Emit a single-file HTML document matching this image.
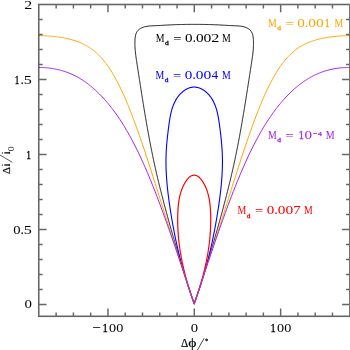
<!DOCTYPE html>
<html><head><meta charset="utf-8"><style>
html,body{margin:0;padding:0;background:#fff;overflow:hidden;}
svg{display:block;will-change:transform;}
text{font-family:"Liberation Serif",serif;}
</style></head><body>
<svg width="350" height="350" viewBox="0 0 350 350">
<defs><clipPath id="c"><rect x="38.75" y="4.5" width="311.15" height="311.80"/></clipPath></defs>
<g>
<g fill="none" stroke-width="1.0" clip-path="url(#c)" stroke-linejoin="round">
<path d="M194.20,304.00 193.98,303.19 193.71,302.39 193.44,301.60 193.17,300.80 192.91,300.01 192.64,299.22 192.37,298.42 192.10,297.63 191.84,296.83 191.57,296.03 191.31,295.24 191.04,294.44 190.78,293.65 190.52,292.85 190.25,292.06 189.99,291.26 189.73,290.46 189.47,289.67 189.20,288.87 188.94,288.07 188.68,287.27 188.42,286.48 188.16,285.68 187.91,284.88 187.65,284.08 187.39,283.29 187.13,282.49 186.87,281.69 186.62,280.89 186.36,280.09 186.11,279.29 185.85,278.49 185.60,277.69 185.34,276.90 185.09,276.10 184.83,275.30 184.58,274.50 184.33,273.70 184.08,272.90 183.83,272.10 183.57,271.30 183.32,270.49 183.07,269.69 182.82,268.89 182.58,268.09 182.33,267.29 182.08,266.49 181.83,265.69 181.58,264.89 181.34,264.08 181.09,263.28 180.84,262.48 180.60,261.68 180.35,260.88 180.11,260.07 179.86,259.27 179.62,258.47 179.38,257.66 179.13,256.86 178.89,256.06 178.65,255.25 178.41,254.45 178.17,253.65 177.93,252.84 177.69,252.04 177.45,251.24 177.21,250.43 176.97,249.63 176.73,248.82 176.49,248.02 176.25,247.21 176.02,246.41 175.78,245.60 175.54,244.80 175.31,243.99 175.07,243.19 174.84,242.38 174.60,241.58 174.37,240.77 174.13,239.97 173.90,239.16 173.67,238.35 173.44,237.55 173.20,236.74 172.97,235.94 172.74,235.13 172.51,234.32 172.28,233.52 172.05,232.71 171.82,231.90 171.59,231.10 171.36,230.29 171.13,229.48 170.91,228.67 170.68,227.87 170.45,227.06 170.23,226.25 170.00,225.44 169.77,224.64 169.55,223.83 169.32,223.02 169.10,222.21 168.88,221.40 168.65,220.60 168.43,219.79 168.21,218.98 167.98,218.17 167.76,217.36 167.54,216.55 167.32,215.75 167.10,214.94 166.88,214.13 166.66,213.32 166.44,212.51 166.22,211.70 166.00,210.89 165.79,210.08 165.57,209.27 165.35,208.46 165.13,207.65 164.92,206.84 164.70,206.03 164.49,205.22 164.27,204.41 164.06,203.60 163.84,202.79 163.63,201.98 163.42,201.17 163.21,200.36 163.00,199.55 162.79,198.74 162.57,197.93 162.37,197.12 162.16,196.30 161.95,195.49 161.74,194.68 161.53,193.87 161.33,193.06 161.12,192.25 160.91,191.43 160.71,190.62 160.51,189.81 160.30,189.00 160.10,188.18 159.90,187.37 159.70,186.56 159.49,185.74 159.29,184.93 159.10,184.12 158.90,183.30 158.70,182.49 158.50,181.68 158.31,180.86 158.11,180.05 157.92,179.23 157.72,178.42 157.53,177.60 157.34,176.79 157.14,175.97 156.95,175.16 156.76,174.34 156.57,173.53 156.38,172.71 156.20,171.89 156.01,171.08 155.82,170.26 155.64,169.44 155.45,168.63 155.27,167.81 155.09,166.99 154.91,166.17 154.73,165.36 154.55,164.54 154.37,163.72 154.19,162.90 154.01,162.08 153.84,161.26 153.66,160.44 153.49,159.62 153.31,158.80 153.14,157.99 152.97,157.17 152.80,156.35 152.63,155.52 152.46,154.70 152.29,153.88 152.12,153.06 151.95,152.24 151.79,151.42 151.62,150.60 151.46,149.78 151.29,148.95 151.13,148.13 150.97,147.31 150.81,146.49 150.65,145.67 150.49,144.84 150.33,144.02 150.17,143.20 150.01,142.37 149.85,141.55 149.70,140.73 149.54,139.90 149.39,139.08 149.23,138.26 149.08,137.43 148.92,136.61 148.77,135.78 148.62,134.96 148.47,134.13 148.32,133.31 148.17,132.48 148.02,131.66 147.87,130.83 147.72,130.01 147.57,129.18 147.42,128.36 147.28,127.53 147.13,126.71 146.99,125.88 146.84,125.06 146.70,124.23 146.55,123.40 146.41,122.58 146.27,121.75 146.12,120.92 145.98,120.10 145.84,119.27 145.70,118.44 145.56,117.62 145.42,116.79 145.28,115.96 145.14,115.14 145.00,114.31 144.86,113.48 144.72,112.65 144.58,111.83 144.45,111.00 144.31,110.17 144.17,109.34 144.04,108.52 143.90,107.69 143.77,106.86 143.63,106.03 143.50,105.21 143.36,104.38 143.23,103.55 143.09,102.72 142.96,101.89 142.83,101.06 142.69,100.24 142.56,99.41 142.43,98.58 142.30,97.75 142.17,96.92 142.03,96.09 141.90,95.27 141.77,94.44 141.64,93.61 141.51,92.78 141.38,91.95 141.25,91.12 141.12,90.30 140.99,89.47 140.86,88.64 140.73,87.81 140.60,86.98 140.47,86.15 140.34,85.32 140.21,84.50 140.08,83.67 139.96,82.84 139.83,82.01 139.70,81.18 139.57,80.35 139.44,79.52 139.31,78.70 139.19,77.87 139.06,77.04 138.93,76.21 138.80,75.38 138.67,74.55 138.55,73.72 138.42,72.90 138.29,72.07 138.16,71.24 138.03,70.41 137.91,69.58 137.78,68.75 137.65,67.93 137.52,67.10 137.39,66.27 137.27,65.44 137.14,64.61 137.01,63.79 136.88,62.96 136.75,62.13 136.63,61.30 136.50,60.48 136.38,59.65 136.26,58.82 136.14,57.99 136.02,57.16 135.91,56.33 135.80,55.50 135.69,54.67 135.60,53.84 135.50,53.00 135.41,52.17 135.33,51.34 135.25,50.50 135.18,49.66 135.12,48.83 135.06,47.99 135.02,47.15 134.98,46.31 134.95,45.46 134.93,44.62 134.92,43.77 134.92,42.93 134.93,42.08 134.95,41.23 134.99,40.37 135.03,39.52 135.09,38.66 135.17,37.81 135.27,36.97 135.40,36.13 135.57,35.31 135.77,34.51 136.02,33.73 136.33,32.98 136.69,32.26 137.10,31.58 137.57,30.93 138.09,30.32 138.66,29.76 139.28,29.24 139.94,28.77 140.64,28.34 141.38,27.96 142.15,27.61 142.93,27.31 143.74,27.04 144.55,26.80 145.38,26.60 146.21,26.43 147.04,26.28 147.88,26.16 148.73,26.06 149.58,25.98 150.43,25.91 151.28,25.85 152.13,25.81 152.99,25.77 153.84,25.74 154.69,25.70 155.54,25.67 156.39,25.63 157.23,25.59 158.08,25.55 158.92,25.51 159.75,25.47 160.59,25.42 161.43,25.38 162.26,25.33 163.09,25.28 163.93,25.24 164.76,25.19 165.59,25.14 166.42,25.10 167.25,25.05 168.08,25.01 168.91,24.96 169.74,24.92 170.57,24.88 171.40,24.84 172.24,24.80 173.07,24.77 173.90,24.73 174.74,24.70 175.57,24.67 176.41,24.64 177.24,24.62 178.08,24.59 178.92,24.56 179.75,24.54 180.59,24.52 181.43,24.50 182.27,24.48 183.11,24.47 183.95,24.45 184.79,24.44 185.63,24.42 186.47,24.41 187.31,24.40 188.15,24.39 188.99,24.39 189.83,24.38 190.67,24.38 191.51,24.37 192.35,24.37 193.19,24.37 194.04,24.37 194.20,24.37 194.36,24.37 195.21,24.37 196.05,24.37 196.89,24.37 197.73,24.38 198.57,24.38 199.41,24.39 200.25,24.39 201.09,24.40 201.93,24.41 202.77,24.42 203.61,24.44 204.45,24.45 205.29,24.47 206.13,24.48 206.97,24.50 207.81,24.52 208.65,24.54 209.48,24.56 210.32,24.59 211.16,24.62 211.99,24.64 212.83,24.67 213.66,24.70 214.50,24.73 215.33,24.77 216.16,24.80 217.00,24.84 217.83,24.88 218.66,24.92 219.49,24.96 220.32,25.01 221.15,25.05 221.98,25.10 222.81,25.14 223.64,25.19 224.47,25.24 225.31,25.28 226.14,25.33 226.97,25.38 227.81,25.42 228.65,25.47 229.48,25.51 230.32,25.55 231.17,25.59 232.01,25.63 232.86,25.67 233.71,25.70 234.56,25.74 235.41,25.77 236.27,25.81 237.12,25.85 237.97,25.91 238.82,25.98 239.67,26.06 240.52,26.16 241.36,26.28 242.19,26.43 243.02,26.60 243.85,26.80 244.66,27.04 245.47,27.31 246.25,27.61 247.02,27.96 247.76,28.34 248.46,28.77 249.12,29.24 249.74,29.76 250.31,30.32 250.83,30.93 251.30,31.58 251.71,32.26 252.07,32.98 252.38,33.73 252.63,34.51 252.83,35.31 253.00,36.13 253.13,36.97 253.23,37.81 253.31,38.66 253.37,39.52 253.41,40.37 253.45,41.23 253.47,42.08 253.48,42.93 253.48,43.77 253.47,44.62 253.45,45.46 253.42,46.31 253.38,47.15 253.34,47.99 253.28,48.83 253.22,49.66 253.15,50.50 253.07,51.34 252.99,52.17 252.90,53.00 252.80,53.84 252.71,54.67 252.60,55.50 252.49,56.33 252.38,57.16 252.26,57.99 252.14,58.82 252.02,59.65 251.90,60.48 251.77,61.30 251.65,62.13 251.52,62.96 251.39,63.79 251.26,64.61 251.13,65.44 251.01,66.27 250.88,67.10 250.75,67.93 250.62,68.75 250.49,69.58 250.37,70.41 250.24,71.24 250.11,72.07 249.98,72.90 249.85,73.72 249.73,74.55 249.60,75.38 249.47,76.21 249.34,77.04 249.21,77.87 249.09,78.70 248.96,79.52 248.83,80.35 248.70,81.18 248.57,82.01 248.44,82.84 248.32,83.67 248.19,84.50 248.06,85.32 247.93,86.15 247.80,86.98 247.67,87.81 247.54,88.64 247.41,89.47 247.28,90.30 247.15,91.12 247.02,91.95 246.89,92.78 246.76,93.61 246.63,94.44 246.50,95.27 246.37,96.09 246.23,96.92 246.10,97.75 245.97,98.58 245.84,99.41 245.71,100.24 245.57,101.06 245.44,101.89 245.31,102.72 245.17,103.55 245.04,104.38 244.90,105.21 244.77,106.03 244.63,106.86 244.50,107.69 244.36,108.52 244.23,109.34 244.09,110.17 243.95,111.00 243.82,111.83 243.68,112.65 243.54,113.48 243.40,114.31 243.26,115.14 243.12,115.96 242.98,116.79 242.84,117.62 242.70,118.44 242.56,119.27 242.42,120.10 242.28,120.92 242.13,121.75 241.99,122.58 241.85,123.40 241.70,124.23 241.56,125.06 241.41,125.88 241.27,126.71 241.12,127.53 240.98,128.36 240.83,129.18 240.68,130.01 240.53,130.83 240.38,131.66 240.23,132.48 240.08,133.31 239.93,134.13 239.78,134.96 239.63,135.78 239.48,136.61 239.32,137.43 239.17,138.26 239.01,139.08 238.86,139.90 238.70,140.73 238.55,141.55 238.39,142.37 238.23,143.20 238.07,144.02 237.91,144.84 237.75,145.67 237.59,146.49 237.43,147.31 237.27,148.13 237.11,148.95 236.94,149.78 236.78,150.60 236.61,151.42 236.45,152.24 236.28,153.06 236.11,153.88 235.94,154.70 235.77,155.52 235.60,156.35 235.43,157.17 235.26,157.99 235.09,158.80 234.91,159.62 234.74,160.44 234.56,161.26 234.39,162.08 234.21,162.90 234.03,163.72 233.85,164.54 233.67,165.36 233.49,166.17 233.31,166.99 233.13,167.81 232.95,168.63 232.76,169.44 232.58,170.26 232.39,171.08 232.20,171.89 232.02,172.71 231.83,173.53 231.64,174.34 231.45,175.16 231.26,175.97 231.06,176.79 230.87,177.60 230.68,178.42 230.48,179.23 230.29,180.05 230.09,180.86 229.90,181.68 229.70,182.49 229.50,183.30 229.30,184.12 229.11,184.93 228.91,185.74 228.70,186.56 228.50,187.37 228.30,188.18 228.10,189.00 227.89,189.81 227.69,190.62 227.49,191.43 227.28,192.25 227.07,193.06 226.87,193.87 226.66,194.68 226.45,195.49 226.24,196.30 226.03,197.12 225.83,197.93 225.61,198.74 225.40,199.55 225.19,200.36 224.98,201.17 224.77,201.98 224.56,202.79 224.34,203.60 224.13,204.41 223.91,205.22 223.70,206.03 223.48,206.84 223.27,207.65 223.05,208.46 222.83,209.27 222.61,210.08 222.40,210.89 222.18,211.70 221.96,212.51 221.74,213.32 221.52,214.13 221.30,214.94 221.08,215.75 220.86,216.55 220.64,217.36 220.42,218.17 220.19,218.98 219.97,219.79 219.75,220.60 219.52,221.40 219.30,222.21 219.08,223.02 218.85,223.83 218.63,224.64 218.40,225.44 218.17,226.25 217.95,227.06 217.72,227.87 217.49,228.67 217.27,229.48 217.04,230.29 216.81,231.10 216.58,231.90 216.35,232.71 216.12,233.52 215.89,234.32 215.66,235.13 215.43,235.94 215.20,236.74 214.96,237.55 214.73,238.35 214.50,239.16 214.27,239.97 214.03,240.77 213.80,241.58 213.56,242.38 213.33,243.19 213.09,243.99 212.86,244.80 212.62,245.60 212.38,246.41 212.15,247.21 211.91,248.02 211.67,248.82 211.43,249.63 211.19,250.43 210.95,251.24 210.71,252.04 210.47,252.84 210.23,253.65 209.99,254.45 209.75,255.25 209.51,256.06 209.27,256.86 209.02,257.66 208.78,258.47 208.54,259.27 208.29,260.07 208.05,260.88 207.80,261.68 207.56,262.48 207.31,263.28 207.06,264.08 206.82,264.89 206.57,265.69 206.32,266.49 206.07,267.29 205.82,268.09 205.58,268.89 205.33,269.69 205.08,270.49 204.83,271.30 204.57,272.10 204.32,272.90 204.07,273.70 203.82,274.50 203.57,275.30 203.31,276.10 203.06,276.90 202.80,277.69 202.55,278.49 202.29,279.29 202.04,280.09 201.78,280.89 201.53,281.69 201.27,282.49 201.01,283.29 200.75,284.08 200.49,284.88 200.24,285.68 199.98,286.48 199.72,287.27 199.46,288.07 199.20,288.87 198.93,289.67 198.67,290.46 198.41,291.26 198.15,292.06 197.88,292.85 197.62,293.65 197.36,294.44 197.09,295.24 196.83,296.03 196.56,296.83 196.30,297.63 196.03,298.42 195.76,299.22 195.49,300.01 195.23,300.80 194.96,301.60 194.69,302.39 194.42,303.19 194.20,304.00Z" stroke="#000" stroke-opacity="0.9"/>
<path d="M194.20,304.00 194.01,302.89 193.80,302.34 193.60,301.80 193.39,301.25 193.19,300.71 192.99,300.16 192.78,299.61 192.58,299.07 192.38,298.52 192.18,297.97 191.99,297.43 191.79,296.88 191.59,296.33 191.40,295.78 191.20,295.24 191.01,294.69 190.81,294.14 190.62,293.59 190.43,293.04 190.24,292.50 190.05,291.95 189.86,291.40 189.67,290.85 189.49,290.30 189.30,289.75 189.12,289.20 188.93,288.65 188.75,288.11 188.57,287.56 188.38,287.01 188.20,286.46 188.02,285.91 187.84,285.36 187.66,284.81 187.49,284.26 187.31,283.71 187.13,283.16 186.96,282.60 186.78,282.05 186.61,281.50 186.44,280.95 186.27,280.40 186.10,279.85 185.92,279.30 185.76,278.75 185.59,278.19 185.42,277.64 185.25,277.09 185.09,276.54 184.92,275.98 184.76,275.43 184.59,274.88 184.43,274.33 184.27,273.77 184.11,273.22 183.94,272.67 183.78,272.11 183.63,271.56 183.47,271.01 183.31,270.45 183.15,269.90 183.00,269.34 182.84,268.79 182.69,268.23 182.53,267.68 182.38,267.12 182.23,266.57 182.08,266.01 181.93,265.46 181.78,264.90 181.63,264.35 181.48,263.79 181.33,263.24 181.18,262.68 181.04,262.12 180.89,261.57 180.75,261.01 180.60,260.45 180.46,259.90 180.32,259.34 180.17,258.78 180.03,258.23 179.89,257.67 179.75,257.11 179.61,256.55 179.48,255.99 179.34,255.44 179.20,254.88 179.07,254.32 178.93,253.76 178.79,253.20 178.66,252.64 178.53,252.08 178.39,251.52 178.26,250.97 178.13,250.41 178.00,249.85 177.87,249.29 177.74,248.73 177.61,248.17 177.48,247.61 177.36,247.04 177.23,246.48 177.10,245.92 176.98,245.36 176.85,244.80 176.73,244.24 176.61,243.68 176.48,243.12 176.36,242.55 176.24,241.99 176.12,241.43 176.00,240.87 175.88,240.31 175.76,239.74 175.64,239.18 175.53,238.62 175.41,238.05 175.29,237.49 175.18,236.93 175.06,236.36 174.95,235.80 174.83,235.24 174.72,234.67 174.61,234.11 174.50,233.54 174.39,232.98 174.27,232.41 174.16,231.85 174.05,231.28 173.95,230.72 173.84,230.15 173.73,229.59 173.62,229.02 173.52,228.45 173.41,227.89 173.30,227.32 173.20,226.75 173.10,226.19 172.99,225.62 172.89,225.05 172.79,224.49 172.68,223.92 172.58,223.35 172.48,222.78 172.38,222.21 172.28,221.65 172.18,221.08 172.08,220.51 171.99,219.94 171.89,219.37 171.79,218.80 171.70,218.23 171.60,217.66 171.50,217.09 171.41,216.52 171.31,215.95 171.22,215.38 171.13,214.81 171.04,214.24 170.94,213.67 170.85,213.10 170.76,212.53 170.67,211.96 170.58,211.39 170.49,210.82 170.40,210.25 170.31,209.67 170.22,209.10 170.14,208.53 170.05,207.96 169.96,207.38 169.88,206.81 169.79,206.24 169.71,205.66 169.62,205.09 169.54,204.52 169.46,203.94 169.37,203.37 169.29,202.80 169.21,202.22 169.13,201.65 169.05,201.07 168.97,200.50 168.89,199.92 168.82,199.35 168.74,198.77 168.66,198.20 168.59,197.62 168.51,197.05 168.44,196.47 168.37,195.90 168.29,195.32 168.22,194.75 168.15,194.17 168.08,193.60 168.01,193.02 167.95,192.45 167.88,191.87 167.81,191.29 167.75,190.72 167.68,190.14 167.62,189.57 167.56,188.99 167.50,188.41 167.43,187.84 167.38,187.26 167.32,186.69 167.26,186.11 167.20,185.53 167.15,184.96 167.09,184.38 167.04,183.80 166.99,183.23 166.94,182.65 166.89,182.08 166.84,181.50 166.79,180.92 166.75,180.35 166.70,179.77 166.66,179.20 166.61,178.62 166.57,178.04 166.53,177.47 166.49,176.89 166.46,176.32 166.42,175.74 166.38,175.17 166.35,174.59 166.32,174.01 166.29,173.44 166.26,172.86 166.23,172.29 166.20,171.71 166.18,171.14 166.15,170.56 166.13,169.99 166.11,169.41 166.09,168.84 166.07,168.26 166.05,167.69 166.04,167.12 166.02,166.54 166.01,165.97 166.00,165.39 165.99,164.82 165.98,164.25 165.97,163.67 165.97,163.10 165.97,162.53 165.97,161.95 165.97,161.38 165.97,160.81 165.97,160.24 165.97,159.66 165.98,159.09 165.99,158.52 166.00,157.95 166.01,157.38 166.02,156.80 166.04,156.23 166.06,155.66 166.08,155.09 166.10,154.52 166.12,153.95 166.14,153.38 166.17,152.81 166.19,152.24 166.22,151.67 166.25,151.10 166.28,150.53 166.32,149.96 166.35,149.39 166.39,148.82 166.43,148.25 166.46,147.68 166.50,147.11 166.55,146.54 166.59,145.97 166.63,145.40 166.68,144.83 166.73,144.26 166.78,143.69 166.83,143.12 166.88,142.55 166.93,141.98 166.98,141.41 167.04,140.84 167.09,140.27 167.15,139.69 167.21,139.12 167.27,138.55 167.33,137.98 167.39,137.40 167.45,136.83 167.51,136.26 167.58,135.68 167.64,135.11 167.71,134.53 167.77,133.96 167.84,133.38 167.91,132.80 167.98,132.23 168.05,131.65 168.12,131.07 168.19,130.49 168.27,129.92 168.34,129.34 168.41,128.76 168.49,128.18 168.56,127.59 168.64,127.01 168.72,126.43 168.79,125.85 168.87,125.26 168.95,124.68 169.03,124.09 169.11,123.51 169.19,122.92 169.28,122.34 169.36,121.75 169.45,121.17 169.54,120.58 169.63,120.00 169.72,119.42 169.82,118.83 169.92,118.25 170.02,117.67 170.12,117.09 170.23,116.51 170.34,115.93 170.46,115.35 170.57,114.77 170.70,114.20 170.82,113.63 170.95,113.05 171.09,112.49 171.22,111.92 171.37,111.35 171.52,110.79 171.67,110.23 171.83,109.67 171.99,109.11 172.16,108.56 172.33,108.00 172.51,107.46 172.70,106.91 172.89,106.37 173.09,105.83 173.30,105.29 173.51,104.76 173.73,104.23 173.95,103.70 174.19,103.18 174.43,102.66 174.67,102.15 174.93,101.63 175.19,101.13 175.46,100.63 175.74,100.13 176.03,99.63 176.33,99.14 176.63,98.66 176.94,98.18 177.27,97.70 177.60,97.23 177.94,96.77 178.29,96.31 178.64,95.86 179.01,95.41 179.38,94.97 179.77,94.54 180.16,94.12 180.56,93.70 180.96,93.29 181.38,92.89 181.80,92.51 182.23,92.13 182.66,91.76 183.10,91.40 183.55,91.05 184.01,90.72 184.47,90.39 184.94,90.08 185.41,89.78 185.89,89.50 186.38,89.23 186.87,88.97 187.37,88.73 187.87,88.50 188.38,88.28 188.89,88.08 189.41,87.90 189.93,87.74 190.46,87.59 190.99,87.46 191.53,87.34 192.07,87.24 192.61,87.17 193.16,87.11 193.71,87.07 194.20,87.07 194.69,87.07 195.24,87.11 195.79,87.17 196.33,87.24 196.87,87.34 197.41,87.46 197.94,87.59 198.47,87.74 198.99,87.90 199.51,88.08 200.02,88.28 200.53,88.50 201.03,88.73 201.53,88.97 202.02,89.23 202.51,89.50 202.99,89.78 203.46,90.08 203.93,90.39 204.39,90.72 204.85,91.05 205.30,91.40 205.74,91.76 206.17,92.13 206.60,92.51 207.02,92.89 207.44,93.29 207.84,93.70 208.24,94.12 208.63,94.54 209.02,94.97 209.39,95.41 209.76,95.86 210.11,96.31 210.46,96.77 210.80,97.23 211.13,97.70 211.46,98.18 211.77,98.66 212.07,99.14 212.37,99.63 212.66,100.13 212.94,100.63 213.21,101.13 213.47,101.63 213.73,102.15 213.97,102.66 214.21,103.18 214.45,103.70 214.67,104.23 214.89,104.76 215.10,105.29 215.31,105.83 215.51,106.37 215.70,106.91 215.89,107.46 216.07,108.00 216.24,108.56 216.41,109.11 216.57,109.67 216.73,110.23 216.88,110.79 217.03,111.35 217.18,111.92 217.31,112.49 217.45,113.05 217.58,113.63 217.70,114.20 217.83,114.77 217.94,115.35 218.06,115.93 218.17,116.51 218.28,117.09 218.38,117.67 218.48,118.25 218.58,118.83 218.68,119.42 218.77,120.00 218.86,120.58 218.95,121.17 219.04,121.75 219.12,122.34 219.21,122.92 219.29,123.51 219.37,124.09 219.45,124.68 219.53,125.26 219.61,125.85 219.68,126.43 219.76,127.01 219.84,127.59 219.91,128.18 219.99,128.76 220.06,129.34 220.13,129.92 220.21,130.49 220.28,131.07 220.35,131.65 220.42,132.23 220.49,132.80 220.56,133.38 220.63,133.96 220.69,134.53 220.76,135.11 220.82,135.68 220.89,136.26 220.95,136.83 221.01,137.40 221.07,137.98 221.13,138.55 221.19,139.12 221.25,139.69 221.31,140.27 221.36,140.84 221.42,141.41 221.47,141.98 221.52,142.55 221.57,143.12 221.62,143.69 221.67,144.26 221.72,144.83 221.77,145.40 221.81,145.97 221.85,146.54 221.90,147.11 221.94,147.68 221.97,148.25 222.01,148.82 222.05,149.39 222.08,149.96 222.12,150.53 222.15,151.10 222.18,151.67 222.21,152.24 222.23,152.81 222.26,153.38 222.28,153.95 222.30,154.52 222.32,155.09 222.34,155.66 222.36,156.23 222.38,156.80 222.39,157.38 222.40,157.95 222.41,158.52 222.42,159.09 222.43,159.66 222.43,160.24 222.43,160.81 222.43,161.38 222.43,161.95 222.43,162.53 222.43,163.10 222.43,163.67 222.42,164.25 222.41,164.82 222.40,165.39 222.39,165.97 222.38,166.54 222.36,167.12 222.35,167.69 222.33,168.26 222.31,168.84 222.29,169.41 222.27,169.99 222.25,170.56 222.22,171.14 222.20,171.71 222.17,172.29 222.14,172.86 222.11,173.44 222.08,174.01 222.05,174.59 222.02,175.17 221.98,175.74 221.94,176.32 221.91,176.89 221.87,177.47 221.83,178.04 221.79,178.62 221.74,179.20 221.70,179.77 221.65,180.35 221.61,180.92 221.56,181.50 221.51,182.08 221.46,182.65 221.41,183.23 221.36,183.80 221.31,184.38 221.25,184.96 221.20,185.53 221.14,186.11 221.08,186.69 221.02,187.26 220.97,187.84 220.90,188.41 220.84,188.99 220.78,189.57 220.72,190.14 220.65,190.72 220.59,191.29 220.52,191.87 220.45,192.45 220.39,193.02 220.32,193.60 220.25,194.17 220.18,194.75 220.11,195.32 220.03,195.90 219.96,196.47 219.89,197.05 219.81,197.62 219.74,198.20 219.66,198.77 219.58,199.35 219.51,199.92 219.43,200.50 219.35,201.07 219.27,201.65 219.19,202.22 219.11,202.80 219.03,203.37 218.94,203.94 218.86,204.52 218.78,205.09 218.69,205.66 218.61,206.24 218.52,206.81 218.44,207.38 218.35,207.96 218.26,208.53 218.18,209.10 218.09,209.67 218.00,210.25 217.91,210.82 217.82,211.39 217.73,211.96 217.64,212.53 217.55,213.10 217.46,213.67 217.36,214.24 217.27,214.81 217.18,215.38 217.09,215.95 216.99,216.52 216.90,217.09 216.80,217.66 216.70,218.23 216.61,218.80 216.51,219.37 216.41,219.94 216.32,220.51 216.22,221.08 216.12,221.65 216.02,222.21 215.92,222.78 215.82,223.35 215.72,223.92 215.61,224.49 215.51,225.05 215.41,225.62 215.30,226.19 215.20,226.75 215.10,227.32 214.99,227.89 214.88,228.45 214.78,229.02 214.67,229.59 214.56,230.15 214.45,230.72 214.35,231.28 214.24,231.85 214.13,232.41 214.01,232.98 213.90,233.54 213.79,234.11 213.68,234.67 213.57,235.24 213.45,235.80 213.34,236.36 213.22,236.93 213.11,237.49 212.99,238.05 212.87,238.62 212.76,239.18 212.64,239.74 212.52,240.31 212.40,240.87 212.28,241.43 212.16,241.99 212.04,242.55 211.92,243.12 211.79,243.68 211.67,244.24 211.55,244.80 211.42,245.36 211.30,245.92 211.17,246.48 211.04,247.04 210.92,247.61 210.79,248.17 210.66,248.73 210.53,249.29 210.40,249.85 210.27,250.41 210.14,250.97 210.01,251.52 209.87,252.08 209.74,252.64 209.61,253.20 209.47,253.76 209.33,254.32 209.20,254.88 209.06,255.44 208.92,255.99 208.79,256.55 208.65,257.11 208.51,257.67 208.37,258.23 208.23,258.78 208.08,259.34 207.94,259.90 207.80,260.45 207.65,261.01 207.51,261.57 207.36,262.12 207.22,262.68 207.07,263.24 206.92,263.79 206.77,264.35 206.62,264.90 206.47,265.46 206.32,266.01 206.17,266.57 206.02,267.12 205.87,267.68 205.71,268.23 205.56,268.79 205.40,269.34 205.25,269.90 205.09,270.45 204.93,271.01 204.77,271.56 204.62,272.11 204.46,272.67 204.29,273.22 204.13,273.77 203.97,274.33 203.81,274.88 203.64,275.43 203.48,275.98 203.31,276.54 203.15,277.09 202.98,277.64 202.81,278.19 202.64,278.75 202.48,279.30 202.30,279.85 202.13,280.40 201.96,280.95 201.79,281.50 201.62,282.05 201.44,282.60 201.27,283.16 201.09,283.71 200.91,284.26 200.74,284.81 200.56,285.36 200.38,285.91 200.20,286.46 200.02,287.01 199.83,287.56 199.65,288.11 199.47,288.65 199.28,289.20 199.10,289.75 198.91,290.30 198.73,290.85 198.54,291.40 198.35,291.95 198.16,292.50 197.97,293.04 197.78,293.59 197.59,294.14 197.39,294.69 197.20,295.24 197.00,295.78 196.81,296.33 196.61,296.88 196.41,297.43 196.22,297.97 196.02,298.52 195.82,299.07 195.62,299.61 195.41,300.16 195.21,300.71 195.01,301.25 194.80,301.80 194.60,302.34 194.39,302.89 194.20,304.00Z" stroke="#0000ff" stroke-width="1.1"/>
<path d="M194.20,304.00 194.10,303.35 193.97,303.00 193.85,302.65 193.73,302.30 193.60,301.95 193.48,301.60 193.36,301.25 193.23,300.91 193.11,300.56 192.99,300.21 192.87,299.86 192.75,299.51 192.63,299.16 192.51,298.81 192.39,298.46 192.27,298.12 192.15,297.77 192.03,297.42 191.91,297.07 191.79,296.72 191.68,296.37 191.56,296.02 191.44,295.67 191.33,295.33 191.21,294.98 191.09,294.63 190.98,294.28 190.86,293.93 190.75,293.58 190.63,293.23 190.52,292.88 190.41,292.53 190.29,292.18 190.18,291.83 190.07,291.49 189.96,291.14 189.85,290.79 189.73,290.44 189.62,290.09 189.51,289.74 189.40,289.39 189.29,289.04 189.18,288.69 189.08,288.34 188.97,287.99 188.86,287.64 188.75,287.29 188.65,286.94 188.54,286.59 188.43,286.24 188.33,285.90 188.22,285.55 188.12,285.20 188.01,284.85 187.91,284.50 187.80,284.15 187.70,283.80 187.60,283.45 187.49,283.10 187.39,282.75 187.29,282.40 187.19,282.05 187.09,281.70 186.99,281.35 186.89,281.00 186.79,280.65 186.69,280.30 186.59,279.94 186.49,279.59 186.40,279.24 186.30,278.89 186.20,278.54 186.11,278.19 186.01,277.84 185.92,277.49 185.82,277.14 185.73,276.79 185.63,276.44 185.54,276.09 185.45,275.74 185.35,275.39 185.26,275.03 185.17,274.68 185.08,274.33 184.99,273.98 184.90,273.63 184.81,273.28 184.72,272.93 184.63,272.58 184.54,272.22 184.45,271.87 184.37,271.52 184.28,271.17 184.19,270.82 184.11,270.47 184.02,270.11 183.94,269.76 183.85,269.41 183.77,269.06 183.68,268.71 183.60,268.35 183.52,268.00 183.44,267.65 183.36,267.30 183.27,266.94 183.19,266.59 183.11,266.24 183.03,265.89 182.96,265.53 182.88,265.18 182.80,264.83 182.72,264.47 182.65,264.12 182.57,263.77 182.49,263.41 182.42,263.06 182.34,262.71 182.27,262.35 182.20,262.00 182.12,261.65 182.05,261.29 181.98,260.94 181.91,260.59 181.84,260.23 181.77,259.88 181.70,259.52 181.63,259.17 181.56,258.82 181.49,258.46 181.42,258.11 181.35,257.75 181.29,257.40 181.22,257.04 181.16,256.69 181.09,256.33 181.03,255.98 180.96,255.62 180.90,255.27 180.84,254.91 180.77,254.56 180.71,254.20 180.65,253.85 180.59,253.49 180.53,253.14 180.47,252.78 180.41,252.43 180.36,252.07 180.30,251.71 180.24,251.36 180.18,251.00 180.13,250.65 180.07,250.29 180.02,249.93 179.96,249.58 179.91,249.22 179.86,248.86 179.81,248.51 179.75,248.15 179.70,247.79 179.65,247.43 179.60,247.08 179.55,246.72 179.50,246.36 179.46,246.00 179.41,245.65 179.36,245.29 179.31,244.93 179.27,244.57 179.22,244.22 179.18,243.86 179.14,243.50 179.09,243.14 179.05,242.78 179.01,242.42 178.97,242.06 178.93,241.71 178.89,241.35 178.85,240.99 178.81,240.63 178.77,240.27 178.73,239.91 178.69,239.55 178.66,239.19 178.62,238.83 178.59,238.47 178.55,238.11 178.52,237.75 178.49,237.39 178.45,237.03 178.42,236.67 178.39,236.31 178.36,235.95 178.33,235.59 178.30,235.23 178.27,234.86 178.24,234.50 178.22,234.14 178.19,233.78 178.16,233.42 178.14,233.06 178.11,232.70 178.09,232.33 178.07,231.97 178.04,231.61 178.02,231.25 178.00,230.88 177.98,230.52 177.96,230.16 177.94,229.80 177.92,229.43 177.90,229.07 177.89,228.71 177.87,228.34 177.85,227.98 177.84,227.62 177.82,227.25 177.81,226.89 177.80,226.52 177.78,226.16 177.77,225.80 177.76,225.43 177.75,225.07 177.74,224.70 177.73,224.34 177.72,223.97 177.72,223.61 177.71,223.24 177.70,222.88 177.70,222.51 177.69,222.14 177.69,221.78 177.69,221.41 177.68,221.05 177.68,220.68 177.68,220.31 177.68,219.95 177.68,219.58 177.68,219.21 177.68,218.85 177.69,218.48 177.69,218.11 177.69,217.74 177.70,217.38 177.70,217.01 177.71,216.64 177.72,216.27 177.72,215.90 177.73,215.54 177.74,215.17 177.75,214.80 177.76,214.43 177.77,214.06 177.79,213.69 177.80,213.32 177.81,212.95 177.83,212.58 177.84,212.21 177.86,211.84 177.88,211.47 177.89,211.10 177.91,210.73 177.93,210.36 177.95,209.99 177.98,209.62 178.00,209.25 178.02,208.89 178.05,208.52 178.08,208.15 178.10,207.78 178.13,207.41 178.16,207.04 178.19,206.67 178.23,206.30 178.26,205.93 178.30,205.57 178.33,205.20 178.37,204.83 178.41,204.46 178.45,204.10 178.50,203.73 178.54,203.36 178.59,203.00 178.63,202.63 178.68,202.27 178.73,201.90 178.79,201.54 178.84,201.18 178.89,200.81 178.95,200.45 179.01,200.09 179.07,199.73 179.13,199.37 179.20,199.01 179.27,198.65 179.33,198.29 179.40,197.93 179.48,197.57 179.55,197.22 179.63,196.86 179.70,196.50 179.78,196.15 179.87,195.79 179.95,195.44 180.04,195.09 180.13,194.74 180.22,194.39 180.31,194.04 180.41,193.69 180.50,193.34 180.60,192.99 180.71,192.65 180.81,192.30 180.92,191.96 181.03,191.61 181.14,191.27 181.25,190.93 181.37,190.59 181.49,190.25 181.61,189.91 181.74,189.57 181.86,189.24 181.99,188.90 182.12,188.57 182.26,188.23 182.40,187.90 182.54,187.57 182.68,187.24 182.83,186.92 182.98,186.59 183.13,186.26 183.28,185.94 183.44,185.62 183.60,185.29 183.76,184.97 183.93,184.66 184.10,184.34 184.27,184.02 184.45,183.71 184.63,183.40 184.81,183.08 184.99,182.77 185.18,182.47 185.37,182.16 185.57,181.85 185.76,181.55 185.96,181.25 186.17,180.95 186.38,180.65 186.59,180.35 186.80,180.05 187.02,179.76 187.24,179.47 187.47,179.18 187.70,178.89 187.93,178.61 188.17,178.34 188.41,178.07 188.66,177.81 188.91,177.56 189.17,177.32 189.43,177.09 189.70,176.87 189.98,176.66 190.26,176.46 190.55,176.28 190.84,176.11 191.14,175.95 191.44,175.81 191.75,175.69 192.07,175.57 192.38,175.47 192.70,175.38 193.03,175.31 193.35,175.25 193.68,175.21 194.01,175.18 194.20,175.18 194.39,175.18 194.72,175.21 195.05,175.25 195.37,175.31 195.70,175.38 196.02,175.47 196.33,175.57 196.65,175.69 196.96,175.81 197.26,175.95 197.56,176.11 197.85,176.28 198.14,176.46 198.42,176.66 198.70,176.87 198.97,177.09 199.23,177.32 199.49,177.56 199.74,177.81 199.99,178.07 200.23,178.34 200.47,178.61 200.70,178.89 200.93,179.18 201.16,179.47 201.38,179.76 201.60,180.05 201.81,180.35 202.02,180.65 202.23,180.95 202.44,181.25 202.64,181.55 202.83,181.85 203.03,182.16 203.22,182.47 203.41,182.77 203.59,183.08 203.77,183.40 203.95,183.71 204.13,184.02 204.30,184.34 204.47,184.66 204.64,184.97 204.80,185.29 204.96,185.62 205.12,185.94 205.27,186.26 205.42,186.59 205.57,186.92 205.72,187.24 205.86,187.57 206.00,187.90 206.14,188.23 206.28,188.57 206.41,188.90 206.54,189.24 206.66,189.57 206.79,189.91 206.91,190.25 207.03,190.59 207.15,190.93 207.26,191.27 207.37,191.61 207.48,191.96 207.59,192.30 207.69,192.65 207.80,192.99 207.90,193.34 207.99,193.69 208.09,194.04 208.18,194.39 208.27,194.74 208.36,195.09 208.45,195.44 208.53,195.79 208.62,196.15 208.70,196.50 208.77,196.86 208.85,197.22 208.92,197.57 209.00,197.93 209.07,198.29 209.13,198.65 209.20,199.01 209.27,199.37 209.33,199.73 209.39,200.09 209.45,200.45 209.51,200.81 209.56,201.18 209.61,201.54 209.67,201.90 209.72,202.27 209.77,202.63 209.81,203.00 209.86,203.36 209.90,203.73 209.95,204.10 209.99,204.46 210.03,204.83 210.07,205.20 210.10,205.57 210.14,205.93 210.17,206.30 210.21,206.67 210.24,207.04 210.27,207.41 210.30,207.78 210.32,208.15 210.35,208.52 210.38,208.89 210.40,209.25 210.42,209.62 210.45,209.99 210.47,210.36 210.49,210.73 210.51,211.10 210.52,211.47 210.54,211.84 210.56,212.21 210.57,212.58 210.59,212.95 210.60,213.32 210.61,213.69 210.63,214.06 210.64,214.43 210.65,214.80 210.66,215.17 210.67,215.54 210.68,215.90 210.68,216.27 210.69,216.64 210.70,217.01 210.70,217.38 210.71,217.74 210.71,218.11 210.71,218.48 210.72,218.85 210.72,219.21 210.72,219.58 210.72,219.95 210.72,220.31 210.72,220.68 210.72,221.05 210.71,221.41 210.71,221.78 210.71,222.14 210.70,222.51 210.70,222.88 210.69,223.24 210.68,223.61 210.68,223.97 210.67,224.34 210.66,224.70 210.65,225.07 210.64,225.43 210.63,225.80 210.62,226.16 210.60,226.52 210.59,226.89 210.58,227.25 210.56,227.62 210.55,227.98 210.53,228.34 210.51,228.71 210.50,229.07 210.48,229.43 210.46,229.80 210.44,230.16 210.42,230.52 210.40,230.88 210.38,231.25 210.36,231.61 210.33,231.97 210.31,232.33 210.29,232.70 210.26,233.06 210.24,233.42 210.21,233.78 210.18,234.14 210.16,234.50 210.13,234.86 210.10,235.23 210.07,235.59 210.04,235.95 210.01,236.31 209.98,236.67 209.95,237.03 209.91,237.39 209.88,237.75 209.85,238.11 209.81,238.47 209.78,238.83 209.74,239.19 209.71,239.55 209.67,239.91 209.63,240.27 209.59,240.63 209.55,240.99 209.51,241.35 209.47,241.71 209.43,242.06 209.39,242.42 209.35,242.78 209.31,243.14 209.26,243.50 209.22,243.86 209.18,244.22 209.13,244.57 209.09,244.93 209.04,245.29 208.99,245.65 208.94,246.00 208.90,246.36 208.85,246.72 208.80,247.08 208.75,247.43 208.70,247.79 208.65,248.15 208.59,248.51 208.54,248.86 208.49,249.22 208.44,249.58 208.38,249.93 208.33,250.29 208.27,250.65 208.22,251.00 208.16,251.36 208.10,251.71 208.04,252.07 207.99,252.43 207.93,252.78 207.87,253.14 207.81,253.49 207.75,253.85 207.69,254.20 207.63,254.56 207.56,254.91 207.50,255.27 207.44,255.62 207.37,255.98 207.31,256.33 207.24,256.69 207.18,257.04 207.11,257.40 207.05,257.75 206.98,258.11 206.91,258.46 206.84,258.82 206.77,259.17 206.70,259.52 206.63,259.88 206.56,260.23 206.49,260.59 206.42,260.94 206.35,261.29 206.28,261.65 206.20,262.00 206.13,262.35 206.06,262.71 205.98,263.06 205.91,263.41 205.83,263.77 205.75,264.12 205.68,264.47 205.60,264.83 205.52,265.18 205.44,265.53 205.37,265.89 205.29,266.24 205.21,266.59 205.13,266.94 205.04,267.30 204.96,267.65 204.88,268.00 204.80,268.35 204.72,268.71 204.63,269.06 204.55,269.41 204.46,269.76 204.38,270.11 204.29,270.47 204.21,270.82 204.12,271.17 204.03,271.52 203.95,271.87 203.86,272.22 203.77,272.58 203.68,272.93 203.59,273.28 203.50,273.63 203.41,273.98 203.32,274.33 203.23,274.68 203.14,275.03 203.05,275.39 202.95,275.74 202.86,276.09 202.77,276.44 202.67,276.79 202.58,277.14 202.48,277.49 202.39,277.84 202.29,278.19 202.20,278.54 202.10,278.89 202.00,279.24 201.91,279.59 201.81,279.94 201.71,280.30 201.61,280.65 201.51,281.00 201.41,281.35 201.31,281.70 201.21,282.05 201.11,282.40 201.01,282.75 200.91,283.10 200.80,283.45 200.70,283.80 200.60,284.15 200.49,284.50 200.39,284.85 200.28,285.20 200.18,285.55 200.07,285.90 199.97,286.24 199.86,286.59 199.75,286.94 199.65,287.29 199.54,287.64 199.43,287.99 199.32,288.34 199.22,288.69 199.11,289.04 199.00,289.39 198.89,289.74 198.78,290.09 198.67,290.44 198.55,290.79 198.44,291.14 198.33,291.49 198.22,291.83 198.11,292.18 197.99,292.53 197.88,292.88 197.77,293.23 197.65,293.58 197.54,293.93 197.42,294.28 197.31,294.63 197.19,294.98 197.07,295.33 196.96,295.67 196.84,296.02 196.72,296.37 196.61,296.72 196.49,297.07 196.37,297.42 196.25,297.77 196.13,298.12 196.01,298.46 195.89,298.81 195.77,299.16 195.65,299.51 195.53,299.86 195.41,300.21 195.29,300.56 195.17,300.91 195.04,301.25 194.92,301.60 194.80,301.95 194.67,302.30 194.55,302.65 194.43,303.00 194.30,303.35 194.20,304.00Z" stroke="#ff0000" stroke-width="1.2"/>
<path d="M38.80,35.66 39.78,35.67 40.75,35.68 41.73,35.69 42.71,35.72 43.69,35.75 44.66,35.79 45.64,35.83 46.62,35.88 47.60,35.94 48.57,36.01 49.55,36.08 50.53,36.16 51.51,36.24 52.48,36.33 53.46,36.43 54.44,36.54 55.42,36.65 56.39,36.77 57.37,36.90 58.35,37.03 59.32,37.17 60.30,37.32 61.28,37.48 62.26,37.65 63.23,37.82 64.21,38.00 65.19,38.19 66.17,38.40 67.14,38.61 68.12,38.83 69.10,39.06 70.08,39.30 71.05,39.55 72.03,39.82 73.01,40.10 73.98,40.39 74.96,40.70 75.94,41.02 76.92,41.36 77.89,41.71 78.87,42.09 79.85,42.48 80.83,42.89 81.80,43.32 82.78,43.77 83.76,44.24 84.74,44.74 85.71,45.26 86.69,45.81 87.67,46.38 88.65,46.98 89.62,47.61 90.60,48.27 91.58,48.96 92.55,49.69 93.53,50.45 94.51,51.24 95.49,52.07 96.46,52.93 97.44,53.83 98.42,54.78 99.40,55.76 100.37,56.78 101.35,57.85 102.33,58.95 103.31,60.11 104.28,61.30 105.26,62.54 106.24,63.83 107.22,65.17 108.19,66.55 109.17,67.98 110.15,69.46 111.12,70.98 112.10,72.56 113.08,74.18 114.06,75.86 115.03,77.59 116.01,79.36 116.99,81.18 117.97,83.06 118.94,84.98 119.92,86.95 120.90,88.98 121.88,91.05 122.85,93.16 123.83,95.33 124.81,97.54 125.78,99.80 126.76,102.10 127.74,104.45 128.72,106.84 129.69,109.27 130.67,111.75 131.65,114.26 132.63,116.82 133.60,119.41 134.58,122.04 135.56,124.70 136.54,127.40 137.51,130.13 138.49,132.89 139.47,135.69 140.45,138.51 141.42,141.35 142.40,144.23 143.38,147.12 144.35,150.04 145.33,152.99 146.31,155.95 147.29,158.93 148.26,161.92 149.24,164.93 150.22,167.96 151.20,170.99 152.17,174.04 153.15,177.10 154.13,180.17 155.11,183.24 156.08,186.32 157.06,189.40 158.04,192.49 159.02,195.58 159.99,198.67 160.97,201.77 161.95,204.86 162.92,207.95 163.90,211.04 164.88,214.12 165.86,217.20 166.83,220.28 167.81,223.35 168.79,226.42 169.77,229.48 170.74,232.54 171.72,235.59 172.70,238.63 173.68,241.67 174.65,244.69 175.63,247.72 176.61,250.73 177.58,253.74 178.56,256.74 179.54,259.73 180.52,262.71 181.49,265.69 182.47,268.67 183.45,271.63 184.43,274.59 185.40,277.55 186.38,280.50 187.36,283.45 188.34,286.39 189.31,289.33 190.29,292.27 191.27,295.20 192.25,298.14 193.22,301.07 194.20,304.00 195.18,301.07 196.15,298.14 197.13,295.20 198.11,292.27 199.09,289.33 200.06,286.39 201.04,283.45 202.02,280.50 203.00,277.55 203.97,274.59 204.95,271.63 205.93,268.67 206.91,265.69 207.88,262.71 208.86,259.73 209.84,256.74 210.82,253.74 211.79,250.73 212.77,247.72 213.75,244.69 214.72,241.67 215.70,238.63 216.68,235.59 217.66,232.54 218.63,229.48 219.61,226.42 220.59,223.35 221.57,220.28 222.54,217.20 223.52,214.12 224.50,211.04 225.48,207.95 226.45,204.86 227.43,201.77 228.41,198.67 229.38,195.58 230.36,192.49 231.34,189.40 232.32,186.32 233.29,183.24 234.27,180.17 235.25,177.10 236.23,174.04 237.20,170.99 238.18,167.96 239.16,164.93 240.14,161.92 241.11,158.93 242.09,155.95 243.07,152.99 244.05,150.04 245.02,147.12 246.00,144.23 246.98,141.35 247.95,138.51 248.93,135.69 249.91,132.89 250.89,130.13 251.86,127.40 252.84,124.70 253.82,122.04 254.80,119.41 255.77,116.82 256.75,114.26 257.73,111.75 258.71,109.27 259.68,106.84 260.66,104.45 261.64,102.10 262.62,99.80 263.59,97.54 264.57,95.33 265.55,93.16 266.52,91.05 267.50,88.98 268.48,86.95 269.46,84.98 270.43,83.06 271.41,81.18 272.39,79.36 273.37,77.59 274.34,75.86 275.32,74.18 276.30,72.56 277.28,70.98 278.25,69.46 279.23,67.98 280.21,66.55 281.18,65.17 282.16,63.83 283.14,62.54 284.12,61.30 285.09,60.11 286.07,58.95 287.05,57.85 288.03,56.78 289.00,55.76 289.98,54.78 290.96,53.83 291.94,52.93 292.91,52.07 293.89,51.24 294.87,50.45 295.85,49.69 296.82,48.96 297.80,48.27 298.78,47.61 299.75,46.98 300.73,46.38 301.71,45.81 302.69,45.26 303.66,44.74 304.64,44.24 305.62,43.77 306.60,43.32 307.57,42.89 308.55,42.48 309.53,42.09 310.51,41.71 311.48,41.36 312.46,41.02 313.44,40.70 314.42,40.39 315.39,40.10 316.37,39.82 317.35,39.55 318.32,39.30 319.30,39.06 320.28,38.83 321.26,38.61 322.23,38.40 323.21,38.19 324.19,38.00 325.17,37.82 326.14,37.65 327.12,37.48 328.10,37.32 329.08,37.17 330.05,37.03 331.03,36.90 332.01,36.77 332.98,36.65 333.96,36.54 334.94,36.43 335.92,36.33 336.89,36.24 337.87,36.16 338.85,36.08 339.83,36.01 340.80,35.94 341.78,35.88 342.76,35.83 343.74,35.79 344.71,35.75 345.69,35.72 346.67,35.69 347.65,35.68 348.62,35.67 349.60,35.66" stroke="#ffa500"/>
<path d="M38.80,67.44 39.78,67.44 40.75,67.46 41.73,67.49 42.71,67.52 43.69,67.57 44.66,67.63 45.64,67.70 46.62,67.78 47.60,67.87 48.57,67.97 49.55,68.09 50.53,68.21 51.51,68.35 52.48,68.50 53.46,68.66 54.44,68.83 55.42,69.02 56.39,69.22 57.37,69.43 58.35,69.66 59.32,69.89 60.30,70.15 61.28,70.41 62.26,70.70 63.23,70.99 64.21,71.30 65.19,71.63 66.17,71.97 67.14,72.32 68.12,72.69 69.10,73.08 70.08,73.48 71.05,73.90 72.03,74.34 73.01,74.79 73.98,75.27 74.96,75.75 75.94,76.26 76.92,76.78 77.89,77.32 78.87,77.88 79.85,78.45 80.83,79.05 81.80,79.66 82.78,80.29 83.76,80.94 84.74,81.61 85.71,82.30 86.69,83.00 87.67,83.73 88.65,84.47 89.62,85.24 90.60,86.02 91.58,86.82 92.55,87.64 93.53,88.49 94.51,89.35 95.49,90.23 96.46,91.13 97.44,92.06 98.42,93.00 99.40,93.97 100.37,94.96 101.35,95.96 102.33,96.99 103.31,98.04 104.28,99.12 105.26,100.21 106.24,101.33 107.22,102.47 108.19,103.64 109.17,104.83 110.15,106.04 111.12,107.27 112.10,108.53 113.08,109.82 114.06,111.13 115.03,112.46 116.01,113.82 116.99,115.21 117.97,116.62 118.94,118.06 119.92,119.53 120.90,121.02 121.88,122.54 122.85,124.09 123.83,125.67 124.81,127.27 125.78,128.91 126.76,130.57 127.74,132.26 128.72,133.98 129.69,135.73 130.67,137.51 131.65,139.33 132.63,141.17 133.60,143.04 134.58,144.94 135.56,146.87 136.54,148.83 137.51,150.82 138.49,152.84 139.47,154.89 140.45,156.97 141.42,159.08 142.40,161.22 143.38,163.39 144.35,165.59 145.33,167.82 146.31,170.08 147.29,172.36 148.26,174.67 149.24,177.01 150.22,179.38 151.20,181.77 152.17,184.19 153.15,186.63 154.13,189.10 155.11,191.60 156.08,194.11 157.06,196.65 158.04,199.22 159.02,201.80 159.99,204.41 160.97,207.04 161.95,209.68 162.92,212.35 163.90,215.04 164.88,217.74 165.86,220.46 166.83,223.20 167.81,225.95 168.79,228.72 169.77,231.50 170.74,234.30 171.72,237.11 172.70,239.93 173.68,242.77 174.65,245.61 175.63,248.47 176.61,251.34 177.58,254.21 178.56,257.10 179.54,259.99 180.52,262.89 181.49,265.80 182.47,268.71 183.45,271.63 184.43,274.56 185.40,277.49 186.38,280.42 187.36,283.36 188.34,286.31 189.31,289.25 190.29,292.20 191.27,295.15 192.25,298.10 193.22,301.05 194.20,304.00 195.18,301.05 196.15,298.10 197.13,295.15 198.11,292.20 199.09,289.25 200.06,286.31 201.04,283.36 202.02,280.42 203.00,277.49 203.97,274.56 204.95,271.63 205.93,268.71 206.91,265.80 207.88,262.89 208.86,259.99 209.84,257.10 210.82,254.21 211.79,251.34 212.77,248.47 213.75,245.61 214.72,242.77 215.70,239.93 216.68,237.11 217.66,234.30 218.63,231.50 219.61,228.72 220.59,225.95 221.57,223.20 222.54,220.46 223.52,217.74 224.50,215.04 225.48,212.35 226.45,209.68 227.43,207.04 228.41,204.41 229.38,201.80 230.36,199.22 231.34,196.65 232.32,194.11 233.29,191.60 234.27,189.10 235.25,186.63 236.23,184.19 237.20,181.77 238.18,179.38 239.16,177.01 240.14,174.67 241.11,172.36 242.09,170.08 243.07,167.82 244.05,165.59 245.02,163.39 246.00,161.22 246.98,159.08 247.95,156.97 248.93,154.89 249.91,152.84 250.89,150.82 251.86,148.83 252.84,146.87 253.82,144.94 254.80,143.04 255.77,141.17 256.75,139.33 257.73,137.51 258.71,135.73 259.68,133.98 260.66,132.26 261.64,130.57 262.62,128.91 263.59,127.27 264.57,125.67 265.55,124.09 266.52,122.54 267.50,121.02 268.48,119.53 269.46,118.06 270.43,116.62 271.41,115.21 272.39,113.82 273.37,112.46 274.34,111.13 275.32,109.82 276.30,108.53 277.28,107.27 278.25,106.04 279.23,104.83 280.21,103.64 281.18,102.47 282.16,101.33 283.14,100.21 284.12,99.12 285.09,98.04 286.07,96.99 287.05,95.96 288.03,94.96 289.00,93.97 289.98,93.00 290.96,92.06 291.94,91.13 292.91,90.23 293.89,89.35 294.87,88.49 295.85,87.64 296.82,86.82 297.80,86.02 298.78,85.24 299.75,84.47 300.73,83.73 301.71,83.00 302.69,82.30 303.66,81.61 304.64,80.94 305.62,80.29 306.60,79.66 307.57,79.05 308.55,78.45 309.53,77.88 310.51,77.32 311.48,76.78 312.46,76.26 313.44,75.75 314.42,75.27 315.39,74.79 316.37,74.34 317.35,73.90 318.32,73.48 319.30,73.08 320.28,72.69 321.26,72.32 322.23,71.97 323.21,71.63 324.19,71.30 325.17,70.99 326.14,70.70 327.12,70.41 328.10,70.15 329.08,69.89 330.05,69.66 331.03,69.43 332.01,69.22 332.98,69.02 333.96,68.83 334.94,68.66 335.92,68.50 336.89,68.35 337.87,68.21 338.85,68.09 339.83,67.97 340.80,67.87 341.78,67.78 342.76,67.70 343.74,67.63 344.71,67.57 345.69,67.52 346.67,67.49 347.65,67.46 348.62,67.44 349.60,67.44" stroke="#a020f0"/>
</g>
<g fill="none" stroke="#000" opacity="0.6">
<rect x="38.75" y="4.5" width="311.15" height="311.80" stroke-width="1.6"/>
<path d="M56.14,316.30V312.40 M56.14,4.50V8.40 M73.41,316.30V312.40 M73.41,4.50V8.40 M90.68,316.30V312.40 M90.68,4.50V8.40 M107.95,316.30V308.50 M107.95,4.50V12.30 M125.22,316.30V312.40 M125.22,4.50V8.40 M142.49,316.30V312.40 M142.49,4.50V8.40 M159.76,316.30V312.40 M159.76,4.50V8.40 M177.03,316.30V312.40 M177.03,4.50V8.40 M194.30,316.30V308.50 M194.30,4.50V12.30 M211.57,316.30V312.40 M211.57,4.50V8.40 M228.84,316.30V312.40 M228.84,4.50V8.40 M246.11,316.30V312.40 M246.11,4.50V8.40 M263.38,316.30V312.40 M263.38,4.50V8.40 M280.65,316.30V308.50 M280.65,4.50V12.30 M297.92,316.30V312.40 M297.92,4.50V8.40 M315.19,316.30V312.40 M315.19,4.50V8.40 M332.46,316.30V312.40 M332.46,4.50V8.40 M38.75,304.40H46.55 M349.90,304.40H342.10 M38.75,289.40H42.65 M349.90,289.40H346.00 M38.75,274.41H42.65 M349.90,274.41H346.00 M38.75,259.41H42.65 M349.90,259.41H346.00 M38.75,244.42H42.65 M349.90,244.42H346.00 M38.75,229.42H46.55 M349.90,229.42H342.10 M38.75,214.43H42.65 M349.90,214.43H346.00 M38.75,199.44H42.65 M349.90,199.44H346.00 M38.75,184.44H42.65 M349.90,184.44H346.00 M38.75,169.44H42.65 M349.90,169.44H346.00 M38.75,154.45H46.55 M349.90,154.45H342.10 M38.75,139.45H42.65 M349.90,139.45H346.00 M38.75,124.46H42.65 M349.90,124.46H346.00 M38.75,109.46H42.65 M349.90,109.46H346.00 M38.75,94.47H42.65 M349.90,94.47H346.00 M38.75,79.47H46.55 M349.90,79.47H342.10 M38.75,64.48H42.65 M349.90,64.48H346.00 M38.75,49.49H42.65 M349.90,49.49H346.00 M38.75,34.49H42.65 M349.90,34.49H346.00 M38.75,19.50H42.65 M349.90,19.50H346.00" stroke-width="1.45"/>
</g>
<text transform="matrix(0.15965,0,0,0.12989,24.20,8.70)" font-size="100" fill="#000">2</text>
<text transform="matrix(0.09090,0,0,0.12573,14.85,83.55)" font-size="100" fill="#000" stroke="#000" stroke-width="2.77" stroke-linejoin="round">1</text>
<text transform="matrix(0.13540,0,0,0.13540,20.51,83.51)" font-size="100" fill="#000">.</text>
<text transform="matrix(0.16136,0,0,0.12941,23.76,83.57)" font-size="100" fill="#000">5</text>
<text transform="matrix(0.09374,0,0,0.12573,26.13,158.55)" font-size="100" fill="#000" stroke="#000" stroke-width="2.73" stroke-linejoin="round">1</text>
<text transform="matrix(0.14629,0,0,0.12744,13.24,233.58)" font-size="100" fill="#000">0</text>
<text transform="matrix(0.13540,0,0,0.13540,20.51,233.51)" font-size="100" fill="#000">.</text>
<text transform="matrix(0.16136,0,0,0.12941,23.76,233.57)" font-size="100" fill="#000">5</text>
<text transform="matrix(0.14865,0,0,0.12596,24.53,308.48)" font-size="100" fill="#000">0</text>
<text transform="matrix(0.15473,0,0,0.16063,92.33,332.73)" font-size="100" fill="#000">−</text>
<text transform="matrix(0.10794,0,0,0.12876,102.60,331.55)" font-size="100" fill="#000" stroke="#000" stroke-width="2.53" stroke-linejoin="round">1</text>
<text transform="matrix(0.14157,0,0,0.13041,109.06,331.57)" font-size="100" fill="#000">0</text>
<text transform="matrix(0.14157,0,0,0.13041,116.36,331.57)" font-size="100" fill="#000">0</text>
<text transform="matrix(0.14629,0,0,0.13041,190.64,331.57)" font-size="100" fill="#000">0</text>
<text transform="matrix(0.10510,0,0,0.12876,270.53,331.55)" font-size="100" fill="#000" stroke="#000" stroke-width="2.57" stroke-linejoin="round">1</text>
<text transform="matrix(0.14157,0,0,0.13041,277.06,331.57)" font-size="100" fill="#000">0</text>
<text transform="matrix(0.14157,0,0,0.13041,284.36,331.57)" font-size="100" fill="#000">0</text>
<text transform="matrix(0.11280,0,0,0.11512,181.07,347.00)" font-size="100" fill="#000" stroke="#000" stroke-width="1.75" stroke-linejoin="round">Δ</text>
<text transform="matrix(0.15611,0,0,0.12187,188.25,347.23)" font-size="100" fill="#000" stroke="#000" stroke-width="1.08" stroke-linejoin="round">ϕ</text>
<path d="M204.1,338.3L196.6,351.5" stroke="#000" stroke-width="0.8" stroke-opacity="0.9" fill="none"/>
<circle cx="206.6" cy="339.9" r="0.95" stroke="#000" stroke-width="0.9" fill="#000" fill-opacity="0.5"/>
<text transform="matrix(0.09867,0,0,0.12370,155.82,42.00)" font-size="100" fill="#000">M</text>
<text transform="matrix(0.07528,0,0,0.06680,164.88,45.18)" font-size="100" fill="#000" stroke="#000" stroke-width="4.22" stroke-linejoin="round">d</text>
<text transform="matrix(0.14613,0,0,0.13200,173.17,43.03)" font-size="100" fill="#000">=</text>
<text transform="matrix(0.15100,0,0,0.12448,185.02,42.08)" font-size="100" fill="#000">0</text>
<text transform="matrix(0.12694,0,0,0.13540,192.66,42.01)" font-size="100" fill="#000">.</text>
<text transform="matrix(0.15336,0,0,0.12448,195.92,42.08)" font-size="100" fill="#000">0</text>
<text transform="matrix(0.15572,0,0,0.12448,203.61,42.08)" font-size="100" fill="#000">0</text>
<text transform="matrix(0.16214,0,0,0.12234,211.19,42.00)" font-size="100" fill="#000">2</text>
<text transform="matrix(0.09867,0,0,0.12370,222.12,42.00)" font-size="100" fill="#000">M</text>
<text transform="matrix(0.09867,0,0,0.12370,155.62,79.30)" font-size="100" fill="#0000ff">M</text>
<text transform="matrix(0.07528,0,0,0.06680,164.68,82.48)" font-size="100" fill="#0000ff" stroke="#0000ff" stroke-width="4.22" stroke-linejoin="round">d</text>
<text transform="matrix(0.14613,0,0,0.13200,172.97,80.33)" font-size="100" fill="#0000ff">=</text>
<text transform="matrix(0.15100,0,0,0.12448,184.82,79.38)" font-size="100" fill="#0000ff">0</text>
<text transform="matrix(0.12694,0,0,0.13540,192.46,79.31)" font-size="100" fill="#0000ff">.</text>
<text transform="matrix(0.15336,0,0,0.12448,195.72,79.38)" font-size="100" fill="#0000ff">0</text>
<text transform="matrix(0.15572,0,0,0.12448,203.41,79.38)" font-size="100" fill="#0000ff">0</text>
<text transform="matrix(0.13338,0,0,0.12306,211.44,79.30)" font-size="100" fill="#0000ff">4</text>
<text transform="matrix(0.09867,0,0,0.12370,221.92,79.30)" font-size="100" fill="#0000ff">M</text>
<text transform="matrix(0.09867,0,0,0.12370,268.12,27.30)" font-size="100" fill="#ffa500">M</text>
<text transform="matrix(0.07528,0,0,0.06680,277.18,30.48)" font-size="100" fill="#ffa500" stroke="#ffa500" stroke-width="4.22" stroke-linejoin="round">d</text>
<text transform="matrix(0.14613,0,0,0.13200,285.47,28.33)" font-size="100" fill="#ffa500">=</text>
<text transform="matrix(0.15100,0,0,0.12448,297.32,27.38)" font-size="100" fill="#ffa500">0</text>
<text transform="matrix(0.12694,0,0,0.13540,304.96,27.31)" font-size="100" fill="#ffa500">.</text>
<text transform="matrix(0.15336,0,0,0.12448,308.22,27.38)" font-size="100" fill="#ffa500">0</text>
<text transform="matrix(0.15572,0,0,0.12448,315.91,27.38)" font-size="100" fill="#ffa500">0</text>
<text transform="matrix(0.08806,0,0,0.11815,325.08,27.15)" font-size="100" fill="#ffa500" stroke="#ffa500" stroke-width="2.91" stroke-linejoin="round">1</text>
<text transform="matrix(0.09867,0,0,0.12370,334.42,27.30)" font-size="100" fill="#ffa500">M</text>
<text transform="matrix(0.09867,0,0,0.12370,237.62,214.40)" font-size="100" fill="#ff0000">M</text>
<text transform="matrix(0.07528,0,0,0.06680,246.68,217.58)" font-size="100" fill="#ff0000" stroke="#ff0000" stroke-width="4.22" stroke-linejoin="round">d</text>
<text transform="matrix(0.14613,0,0,0.13200,254.97,215.43)" font-size="100" fill="#ff0000">=</text>
<text transform="matrix(0.15100,0,0,0.12448,266.82,214.48)" font-size="100" fill="#ff0000">0</text>
<text transform="matrix(0.12694,0,0,0.13540,274.46,214.41)" font-size="100" fill="#ff0000">.</text>
<text transform="matrix(0.15336,0,0,0.12448,277.72,214.48)" font-size="100" fill="#ff0000">0</text>
<text transform="matrix(0.15572,0,0,0.12448,285.41,214.48)" font-size="100" fill="#ff0000">0</text>
<text transform="matrix(0.14805,0,0,0.12370,293.32,214.40)" font-size="100" fill="#ff0000">7</text>
<text transform="matrix(0.09867,0,0,0.12370,303.92,214.40)" font-size="100" fill="#ff0000">M</text>
<text transform="matrix(0.09867,0,0,0.12370,268.12,139.10)" font-size="100" fill="#a020f0">M</text>
<text transform="matrix(0.07528,0,0,0.06680,277.18,142.28)" font-size="100" fill="#a020f0" stroke="#a020f0" stroke-width="4.22" stroke-linejoin="round">d</text>
<text transform="matrix(0.14613,0,0,0.13200,285.47,140.13)" font-size="100" fill="#a020f0">=</text>
<text transform="matrix(0.10226,0,0,0.11815,298.65,138.95)" font-size="100" fill="#a020f0" stroke="#a020f0" stroke-width="2.72" stroke-linejoin="round">1</text>
<text transform="matrix(0.15100,0,0,0.12448,304.42,139.18)" font-size="100" fill="#a020f0">0</text>
<text transform="matrix(0.08381,0,0,0.16063,312.68,139.23)" font-size="100" fill="#a020f0">−</text>
<text transform="matrix(0.08497,0,0,0.06305,317.76,136.18)" font-size="100" fill="#a020f0" stroke="#a020f0" stroke-width="3.38" stroke-linejoin="round">4</text>
<text transform="matrix(0.09987,0,0,0.12370,325.81,139.10)" font-size="100" fill="#a020f0">M</text>
<g transform="translate(0,350) rotate(-90)">
<text transform="matrix(0.10927,0,0,0.11209,175.98,9.50)" font-size="100" fill="#000" stroke="#000" stroke-width="1.81" stroke-linejoin="round">Δ</text>
<path d="M195.3,-0.6L187.7,12.3" stroke="#000" stroke-width="0.75" stroke-opacity="0.85" fill="none"/>
<text transform="matrix(0.09910,0,0,0.08891,198.72,14.11)" font-size="100" fill="#000">0</text>
</g>
<g fill="#000"><rect x="4.3" y="164.38" width="5.4" height="1.24"/><rect x="8.9" y="163.85" width="0.8" height="2.3"/><circle cx="2.35" cy="165.05" r="0.62"/><rect x="4.3" y="152.23" width="5.4" height="1.24"/><rect x="8.9" y="151.70" width="0.8" height="2.3"/><circle cx="2.35" cy="152.90" r="0.62"/></g>
</g>
</svg>
</body></html>
